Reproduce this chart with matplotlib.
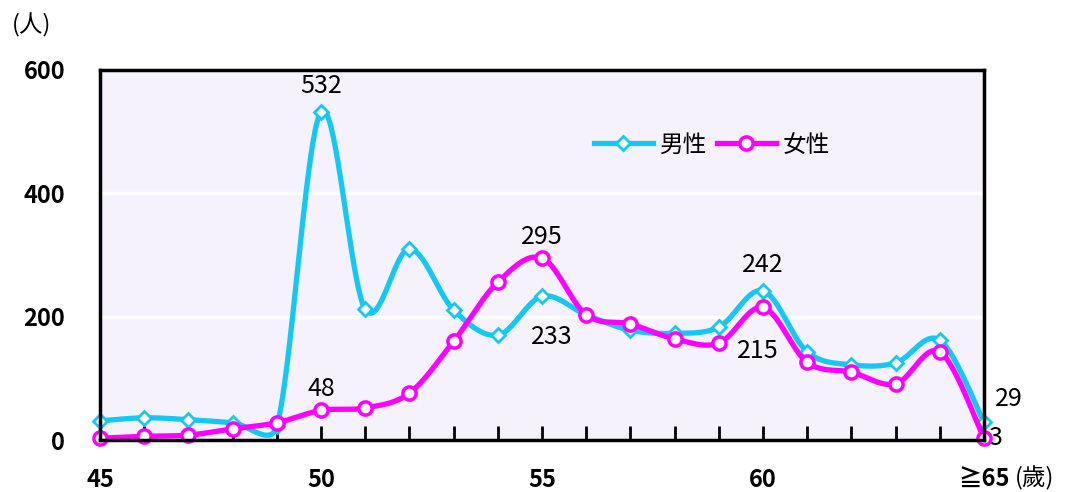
import numpy as np
import matplotlib
matplotlib.use("Agg")
import matplotlib.pyplot as plt
from matplotlib.lines import Line2D

plt.rcParams['font.family'] = ['Noto Sans CJK TC', 'DejaVu Sans']

ages = list(range(45, 66))
male = [31, 36, 33, 28, 22, 532, 212, 310, 211, 170, 233, 203, 178, 173, 183, 242, 143, 122, 125, 162, 29]
female = [3, 6, 8, 18, 28, 48, 52, 76, 160, 256, 295, 203, 188, 164, 157, 215, 126, 110, 91, 143, 3]
xtick_vals = [45, 50, 55, 60, 65]
xtick_labels = ['45', '50', '55', '60', '≧65']
ytick_vals = [0, 200, 400, 600]

CYAN = '#14C8F2'
MAG = '#FF00FF'

# pixel scale of the plot area (smoothing done in screen space, like Excel)
SX = 884 / 20.0
SY = 370 / 600.0


def smooth(xs, ys, n=40, kmax=0.5):
    x = np.asarray(xs, float) * SX
    y = np.asarray(ys, float) * SY
    P = np.column_stack([x, y])
    m = len(P)
    D = np.zeros_like(P)
    for i in range(m):
        D[i] = (P[min(i + 1, m - 1)] - P[max(i - 1, 0)]) / 6.0
    t = np.linspace(0, 1, n)[:, None]
    out = []
    for i in range(m - 1):
        p0, p3 = P[i], P[i + 1]
        L = np.linalg.norm(p3 - p0)
        d0, d1 = D[i].copy(), D[i + 1].copy()
        for d in (d0, d1):
            nd = np.linalg.norm(d)
            if nd > L * kmax:
                d *= L * kmax / nd
        p1 = p0 + d0
        p2 = p3 - d1
        b = (1 - t) ** 3 * p0 + 3 * (1 - t) ** 2 * t * p1 + 3 * (1 - t) * t ** 2 * p2 + t ** 3 * p3
        out.append(b)
    out = np.vstack(out)
    return out[:, 0] / SX, out[:, 1] / SY


fig = plt.figure(figsize=(10.65, 4.92), dpi=100)
ax = fig.add_axes([100 / 1065, 1 - 440 / 492, 884 / 1065, 370 / 492])
ax.set_facecolor('#F5F2FC')
ax.set_xlim(45, 65)
ax.set_ylim(0, 600)
for v in [200, 400]:
    ax.axhline(v, color='white', lw=2.5, zorder=1)

sx, sy = smooth(ages, male)
ax.plot(sx, sy, color=CYAN, lw=3.8, zorder=3, clip_on=False, solid_capstyle='round')
ax.plot(ages, male, ls='none', marker='D', ms=7, mfc='white', mec=CYAN, mew=2, zorder=4, clip_on=False)
sx, sy = smooth(ages, female)
ax.plot(sx, sy, color=MAG, lw=3.8, zorder=5, clip_on=False, solid_capstyle='round')
ax.plot(ages, female, ls='none', marker='o', ms=9.5, mfc='white', mec=MAG, mew=2.5, zorder=6, clip_on=False)

for s in ax.spines.values():
    s.set_color('black')
    s.set_linewidth(2.5)
    s.set_zorder(7)

ax.set_xticks(xtick_vals)
ax.set_xticklabels(xtick_labels)
ax.set_xticks(ages, minor=True)
ax.tick_params(axis='x', which='both', direction='in', length=10, width=2, pad=20, labelsize=17)
ax.set_yticks(ytick_vals)
ax.tick_params(axis='y', length=0, pad=25, labelsize=17)
for lab in ax.get_xticklabels() + ax.get_yticklabels():
    lab.set_fontweight('bold')

fs = 18
ax.annotate(str(male[5]), (50, male[5]), xytext=(0, 9), textcoords='offset points', ha='center', va='bottom', fontsize=fs)
ax.annotate(str(female[5]), (50, female[5]), xytext=(0, 6), textcoords='offset points', ha='center', va='bottom', fontsize=fs)
ax.annotate(str(female[10]), (55, female[10]), xytext=(0, 6), textcoords='offset points', ha='center', va='bottom', fontsize=fs)
ax.annotate(str(male[10]), (55, male[10]), xytext=(7, -20), textcoords='offset points', ha='center', va='top', fontsize=fs)
ax.annotate(str(male[15]), (60, male[15]), xytext=(0, 9), textcoords='offset points', ha='center', va='bottom', fontsize=fs)
ax.annotate(str(female[15]), (60, female[15]), xytext=(-4, -22), textcoords='offset points', ha='center', va='top', fontsize=fs)
ax.annotate(str(male[20]), (65, male[20]), xytext=(8, 7), textcoords='offset points', ha='left', va='bottom', fontsize=fs)
ax.annotate(str(female[20]), (65, female[20]), xytext=(3, 0), textcoords='offset points', ha='left', va='center', fontsize=fs)

fig.text(32 / 1065, 1 - 25 / 492, '(人)', ha='center', va='center', fontsize=17)
fig.text(1035 / 1065, 1 - 478 / 492, '(歲)', ha='center', va='center', fontsize=17)

handles = [Line2D([], [], color=CYAN, lw=3.8, marker='D', ms=7, mfc='white', mec=CYAN, mew=2),
           Line2D([], [], color=MAG, lw=3.8, marker='o', ms=9.5, mfc='white', mec=MAG, mew=2.5)]
ax.legend(handles, ['男性', '女性'], loc='center', bbox_to_anchor=(712 / 1065, 1 - 145 / 492),
          bbox_transform=fig.transFigure, ncol=2, frameon=False, fontsize=17,
          handlelength=2.5, handletextpad=0.3, columnspacing=0.4)

fig.savefig('out.png', dpi=100)
